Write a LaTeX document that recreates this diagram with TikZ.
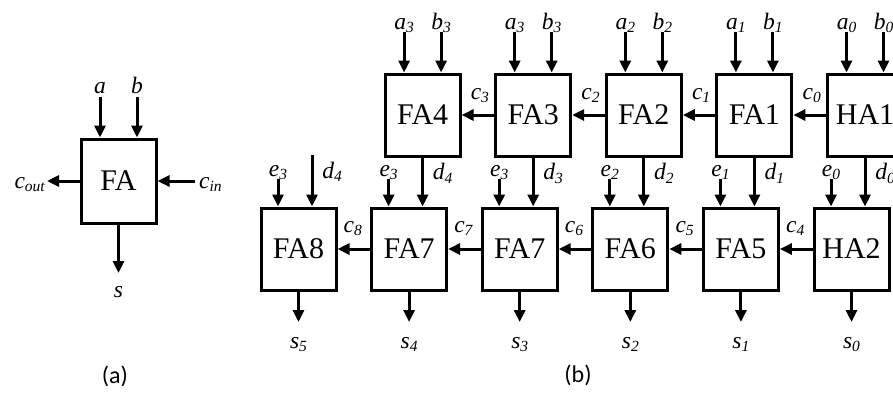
\documentclass[tikz,border=0pt]{standalone}
\usepackage{fontspec}
\setmainfont{Liberation Serif}
\newfontfamily\capfont{Carlito}
\usetikzlibrary{arrows.meta,calc}
\newcommand\lb[2]{\textit{#1\raisebox{-0.35ex}{\fontsize{15.5}{15.5}\selectfont #2}}}
\begin{document}
\begin{tikzpicture}[x=1pt,y=1pt,
  blk/.style={draw, line width=3pt, minimum width=75pt, minimum height=82pt, inner sep=0pt, font=\fontsize{30}{30}\selectfont},
  wire/.style={line width=3pt, -{Triangle[length=12pt,width=11pt]}},
  lbl/.style={font=\fontsize{23.5}{23.5}\selectfont, inner sep=0pt},
  captxt/.style={font=\capfont\fontsize{24}{24}\selectfont, inner sep=0pt}]
\useasboundingbox (0,0) rectangle (893,-392);
% ---------- (a) single full adder ----------
\node[blk, minimum height=84pt] (fa) at (118.5,-181) {FA};
\coordinate (fa a) at (100,-97);
\coordinate (fa b) at (137,-97);
\coordinate (fa co) at (47,-181);
\coordinate (fa ci) at (195,-181);
\coordinate (fa s) at (118.5,-273);
\draw[wire] (fa a) -- (fa a |- fa.north);
\draw[wire] (fa b) -- (fa b |- fa.north);
\draw[wire] (fa.west) -- (fa co);
\draw[wire] (fa ci) -- (fa.east);
\draw[wire] (fa.south) -- (fa s);
\node[lbl, anchor=base] at (100,-93) {\textit{a}};
\node[lbl, anchor=base] at (137,-93) {\textit{b}};
\node[lbl, anchor=base east] at (45,-188) {\lb{c}{out}};
\node[lbl, anchor=base west] at (199,-188) {\lb{c}{in}};
\node[lbl, anchor=base] at (118.5,-297) {\textit{s}};
\node[captxt] (capa) at (115,-376) {(a)};
% ---------- (b) top row ----------
\foreach \n/\x/\t/\k in {t1/422.6/FA4/3, t2/533.2/FA3/3, t3/643.8/FA2/2, t4/754.4/FA1/1, t5/865/HA1/0} {
  \node[blk] (\n) at (\x,-115) {\t};
  \coordinate (\n a) at (\x-18.5,-32);
  \coordinate (\n b) at (\x+18.5,-32);
  \draw[wire] (\n a) -- (\n a |- \n.north);
  \draw[wire] (\n b) -- (\n b |- \n.north);
  \node[lbl, anchor=base] at (\x-18.5,-29) {\lb{a}{\k}};
  \node[lbl, anchor=base] at (\x+18.5,-29) {\lb{b}{\k}};
}
% ---------- (b) bottom row ----------
\foreach \n/\x/\t/\e/\s in {b0/298.5/FA8/3/5, b1/409.1/FA7/3/4, b2/519.7/FA7/3/3, b3/630.3/FA6/2/2, b4/740.9/FA5/1/1, b5/851.5/HA2/0/0} {
  \node[blk] (\n) at (\x,-249) {\t};
  \coordinate (\n e) at (\x-20.5,-179);
  \coordinate (\n s) at (\x,-322);
  \draw[wire] (\n e) -- (\n e |- \n.north);
  \draw[wire] (\n.south) -- (\n s);
  \node[lbl, anchor=base] at (\x-20.5,-176) {\lb{e}{\e}};
  \node[lbl, anchor=base] at (\x,-348) {\lb{s}{\s}};
}
% d connections
\coordinate (d4free) at (312,-155);
\draw[wire] (d4free) -- (d4free |- b0.north);
\node[lbl, anchor=base] at (332,-178) {\lb{d}{4}};
\foreach \tt/\bb/\k in {t1/b1/4, t2/b2/3, t3/b3/2, t4/b4/1, t5/b5/0} {
  \draw[wire] (\tt.south) -- (\tt.south |- \bb.north);
  \node[lbl, anchor=base] at ($(\tt.south)+(20,-22)$) {\lb{d}{\k}};
}
% carries, top row
\foreach \r/\l/\k in {t2/t1/3, t3/t2/2, t4/t3/1, t5/t4/0} {
  \draw[wire] (\r.west) -- (\l.east);
  \node[lbl, anchor=base west] at ($(\l.east)+(9,16)$) {\lb{c}{\k}};
}
% carries, bottom row
\foreach \r/\l/\k in {b1/b0/8, b2/b1/7, b3/b2/6, b4/b3/5, b5/b4/4} {
  \draw[wire] (\r.west) -- (\l.east);
  \node[lbl, anchor=base west] at ($(\l.east)+(6,17)$) {\lb{c}{\k}};
}
\node[captxt] (capb) at (578,-375) {(b)};
\end{tikzpicture}
\end{document}
